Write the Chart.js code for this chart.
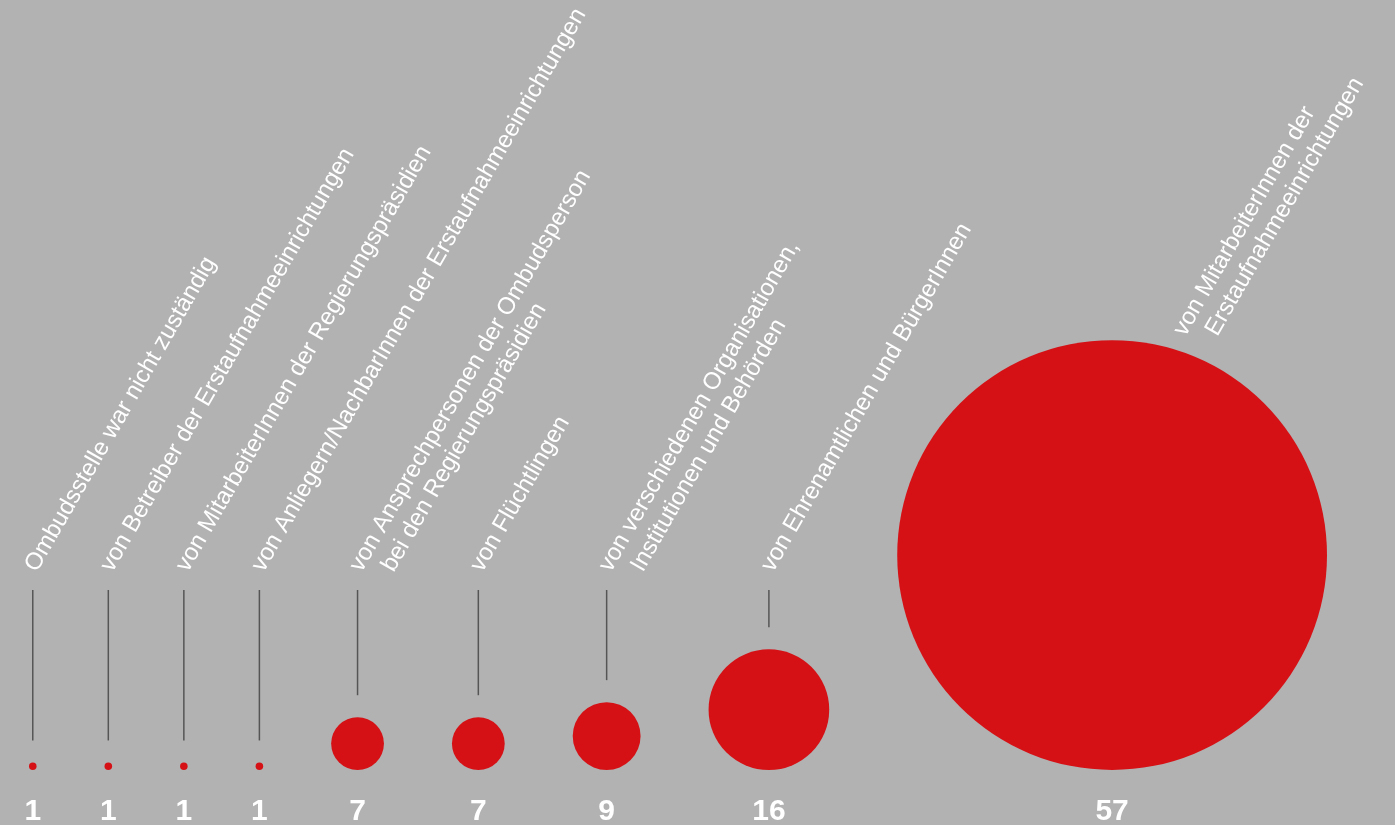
<!DOCTYPE html>
<html lang="de">
<head>
<meta charset="utf-8">
<title>Anfragen an die Ombudsstelle</title>
<script src="https://cdn.jsdelivr.net/npm/chart.js@4.4.1/dist/chart.umd.min.js"></script>
<style>
	html, body { margin: 0; padding: 0; background: #b2b2b2; }
	#wrap { width: 1395px; height: 825px; position: relative; }
</style>
</head>
<body>
<div id="wrap"><canvas id="bubbles"></canvas></div>
<script>
// Herkunft der Anfragen
const categories = [
	"Ombudsstelle war nicht zuständig",
	"von Betreiber der Erstaufnahmeeinrichtungen",
	"von MitarbeiterInnen der Regierungspräsidien",
	"von Anliegern/NachbarInnen der Erstaufnahmeeinrichtungen",
	["von Ansprechpersonen der Ombudsperson", "bei den Regierungspräsidien"],
	"von Flüchtlingen",
	["von verschiedenen Organisationen,", "Institutionen und Behörden"],
	"von Ehrenamtlichen und BürgerInnen",
	["von MitarbeiterInnen der", "Erstaufnahmeeinrichtungen"]
];
const counts = [1, 1, 1, 1, 7, 7, 9, 16, 57];

// layout
const pxPerCase = 3.77;
const leftMargin = 29;
const gap = 68;
const plotBottom = 770;

const radii = counts.map(function(v) { return v * pxPerCase; });
const xs = [];
radii.forEach(function(r, i) {
	if (i == 0) xs.push(leftMargin + r);
	else xs.push(xs[i - 1] + radii[i - 1] + r + gap);
});

const bubbleData = counts.map(function(v, i) {
	return { x: xs[i], y: radii[i], r: radii[i] };
});

const background = {
	id: 'background',
	beforeDraw: function(chart) {
		const ctx = chart.ctx;
		ctx.save();
		ctx.fillStyle = '#b2b2b2';
		ctx.fillRect(0, 0, chart.width, chart.height);
		ctx.restore();
	}
};

// leader lines and rotated category labels
const labelsAndLeaders = {
	id: 'labelsAndLeaders',
	afterDatasetsDraw: function(chart) {
		const ctx = chart.ctx;
		const points = chart.getDatasetMeta(0).data;
		const angle = -60 * Math.PI / 180;
		ctx.save();
		points.forEach(function(pt, i) {
			const r = pt.options.radius;
			const top = pt.y - r;
			// leader line
			if (top - 22 > 590) {
				ctx.strokeStyle = '#555555';
				ctx.lineWidth = 1.5;
				ctx.beginPath();
				ctx.moveTo(pt.x, 590);
				ctx.lineTo(pt.x, top - 22);
				ctx.stroke();
			}
			let sx = pt.x + 4;
			let sy = 573;
			// big bubble: label sits on its shoulder
			if (top - 3 < sy) {
				sy = top - 3;
				sx = pt.x + r * 0.34;
			}
			const lines = [].concat(categories[i]);
			ctx.fillStyle = '#ffffff';
			ctx.font = '24px "Liberation Sans", Arial, sans-serif';
			ctx.textAlign = 'left';
			ctx.textBaseline = 'alphabetic';
			lines.forEach(function(line, j) {
				ctx.save();
				ctx.translate(sx + j * 32, sy);
				ctx.rotate(angle);
				ctx.fillText(line, 0, 0);
				ctx.restore();
			});
		});
		ctx.restore();
	}
};

const chart = new Chart(document.getElementById('bubbles').getContext('2d'), {
	type: 'bubble',
	data: {
		datasets: [{
			label: 'Anfragen',
			data: bubbleData,
			backgroundColor: '#d51116',
			borderWidth: 0,
			hoverRadius: 0,
			hoverBorderWidth: 0,
			clip: false
		}]
	},
	options: {
		responsive: true,
		maintainAspectRatio: false,
		animation: false,
		events: [],
		layout: { padding: 0, autoPadding: false },
		plugins: {
			legend: { display: false },
			tooltip: { enabled: false }
		},
		scales: {
			x: {
				type: 'linear',
				min: 0,
				max: 1395,
				grid: { display: false, drawTicks: false },
				border: { display: false },
				afterBuildTicks: function(scale) {
					scale.ticks = xs.map(function(x) { return { value: x }; });
				},
				afterFit: function(scale) {
					scale.height = 825 - plotBottom;
				},
				ticks: {
					autoSkip: false,
					maxRotation: 0,
					minRotation: 0,
					padding: 24,
					color: '#ffffff',
					font: { family: '"Liberation Sans", Arial, sans-serif', size: 30, weight: 'bold' },
					callback: function(value, index) {
						return String(counts[index]);
					}
				}
			},
			y: {
				display: false,
				min: 0,
				max: plotBottom
			}
		}
	},
	plugins: [background, labelsAndLeaders]
});
</script>
</body>
</html>
